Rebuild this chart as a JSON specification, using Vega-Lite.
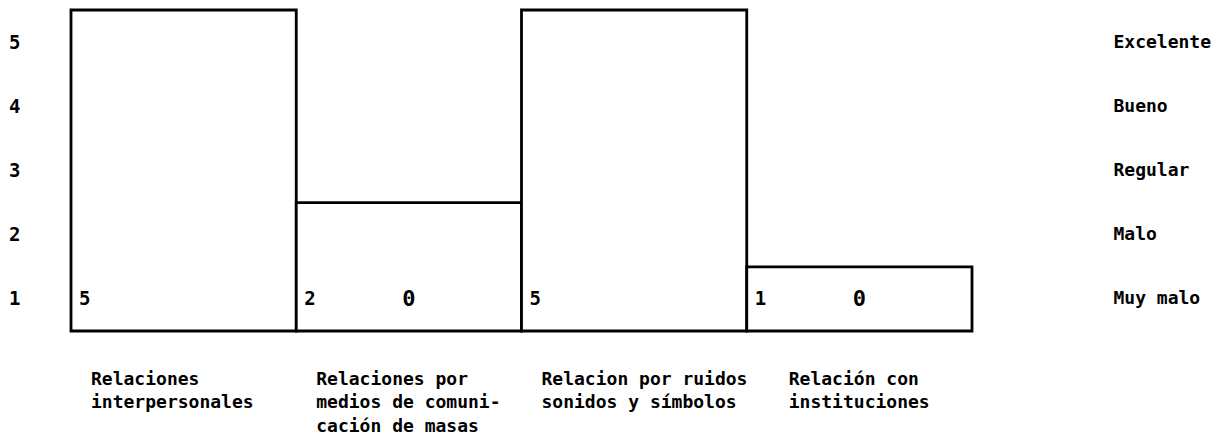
{
  "$schema": "https://vega.github.io/schema/vega-lite/v6.json",
  "width": 901,
  "height": 321,
  "autosize": "none",
  "padding": {"left": 71, "top": 10, "right": 256, "bottom": 107},
  "background": "white",
  "config": {
    "view": {"stroke": null},
    "axis": {
      "labelFont": "DejaVu Sans Mono",
      "labelFontWeight": "bold",
      "labelFontSize": 18,
      "labelColor": "black",
      "domain": false,
      "ticks": false,
      "grid": false
    }
  },
  "data": {
    "values": [
      {"categoria": "Relaciones\ninterpersonales", "puntaje": 5, "otro": null},
      {"categoria": "Relaciones por\nmedios de comuni-\ncación de masas", "puntaje": 2, "otro": 0},
      {"categoria": "Relacion por ruidos\nsonidos y símbolos", "puntaje": 5, "otro": null},
      {"categoria": "Relación con\ninstituciones", "puntaje": 1, "otro": 0}
    ]
  },
  "encoding": {
    "x": {
      "field": "categoria",
      "type": "nominal",
      "sort": null,
      "scale": {"paddingInner": 0, "paddingOuter": 0},
      "axis": {
        "title": null,
        "orient": "bottom",
        "labelAngle": 0,
        "labelAlign": "left",
        "labelBaseline": "top",
        "labelPadding": 39,
        "labelLineHeight": 23.5,
        "labelLimit": 0,
        "labelOverlap": false,
        "labelExpr": "split(datum.label, '\\n')",
        "labelOffset": {"condition": {"test": "indexof(datum.label, 'instituciones') >= 0", "value": -70.6}, "value": -92.6}
      }
    }
  },
  "layer": [
    {
      "mark": {"type": "bar", "fill": "white", "stroke": "black", "strokeWidth": 2.8},
      "encoding": {
        "y": {
          "field": "puntaje",
          "type": "quantitative",
          "scale": {"domain": [0, 5], "nice": false},
          "axis": {
            "title": null,
            "orient": "left",
            "values": [0.5, 1.5, 2.5, 3.5, 4.5],
            "labelExpr": "format(datum.value + 0.5, 'd')",
            "labelPadding": 51,
            "labelOffset": 0,
            "labelFontSize": 19
          }
        }
      }
    },
    {
      "mark": {"type": "text", "align": "left", "baseline": "middle", "dx": 8, "dy": 0, "font": "DejaVu Sans Mono", "fontWeight": "bold", "fontSize": 19, "color": "black"},
      "encoding": {
        "x": {"field": "categoria", "type": "nominal", "sort": null, "bandPosition": 0},
        "y": {
          "datum": 0.5,
          "type": "quantitative",
          "axis": {
            "title": null,
            "orient": "right",
            "values": [0.5, 1.5, 2.5, 3.5, 4.5],
            "labelExpr": "['Muy malo','Malo','Regular','Bueno','Excelente'][floor(datum.value)]",
            "labelAlign": "left",
            "labelPadding": 141,
            "labelOffset": 0,
            "labelLimit": 0
          }
        },
        "text": {"field": "puntaje", "type": "quantitative"}
      }
    },
    {
      "transform": [{"filter": "datum.otro != null"}],
      "mark": {"type": "text", "align": "center", "baseline": "middle", "dy": 0, "font": "DejaVu Sans Mono", "fontWeight": "bold", "fontSize": 22, "color": "black"},
      "encoding": {
        "y": {"datum": 0.5, "type": "quantitative", "axis": null},
        "text": {"field": "otro", "type": "quantitative"}
      }
    }
  ],
  "resolve": {"axis": {"y": "independent"}}
}
